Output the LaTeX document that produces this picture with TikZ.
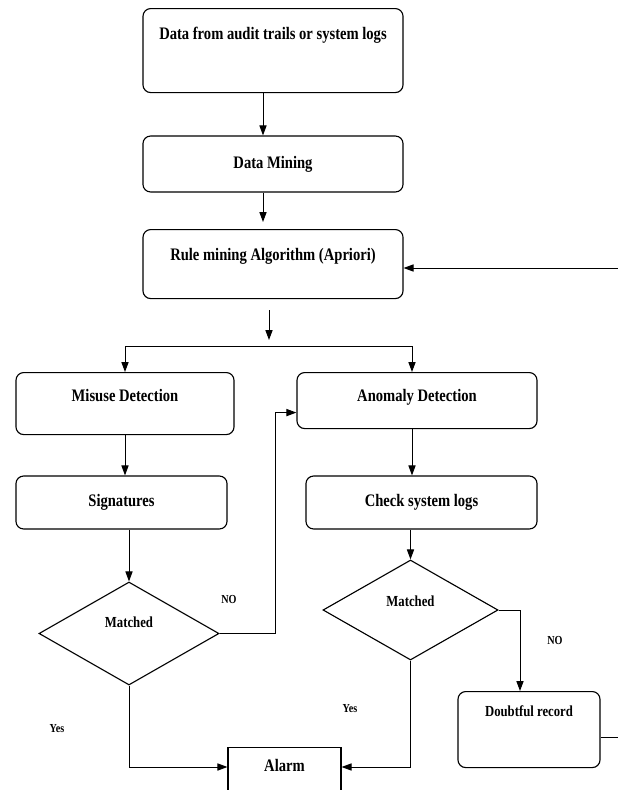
\documentclass[tikz,border=0pt]{standalone}
\usepackage{fontspec}
\newfontfamily\flowfont[FakeStretch=0.83]{Liberation Serif}
\usetikzlibrary{arrows.meta,shapes.geometric}
\tikzset{
  box/.style={draw,rounded corners=5.5pt,line width=0.8pt,inner sep=0pt,align=center},
  dia/.style={draw,diamond,line width=0.8pt,inner sep=0pt,minimum width=4.5cm,
    font={\flowfont\bfseries\fontsize{10.9}{12}\selectfont}},
  arr/.style={line width=0.7pt,-{Triangle[length=0.25cm,width=0.18cm]}},
  tag/.style={font={\flowfont\bfseries\fontsize{8.7}{9}\selectfont}}
}
\begin{document}
\begin{tikzpicture}[x=0.025cm,y=-0.025cm,font={\flowfont\bfseries\fontsize{12.5}{14}\selectfont}]
  \useasboundingbox (0,0) rectangle (618,790);

  \node[box,anchor=north,minimum width=6.5cm,text height=0.77cm,text depth=1.33cm] (src) at (273,8) {Data from audit trails or system logs};
  \node[box,minimum width=6.5cm,minimum height=1.4cm] (mining) at (273,164) {Data Mining};
  \node[box,anchor=north,minimum width=6.5cm,text height=0.785cm,text depth=0.94cm] (rules) at (273,229) {Rule mining Algorithm (Apriori)};
  \node[box,anchor=north,minimum width=5.45cm,text height=0.72cm,text depth=0.83cm] (misuse) at (125,372) {Misuse Detection};
  \node[box,anchor=north,minimum width=6cm,text height=0.72cm,text depth=0.68cm] (anomaly) at (417,372) {Anomaly Detection};
  \node[box,minimum width=5.275cm,minimum height=1.325cm] (sigs) at (121.5,502.5) {Signatures};
  \node[box,minimum width=5.775cm,minimum height=1.325cm] (checklog) at (421.5,502.5) {Check system logs};
  \node[dia,minimum height=2.575cm,text height=0.2cm,text depth=0.5cm] (match1) at (129,633.5) {Matched};
  \node[dia,minimum width=4.375cm,minimum height=2.5cm,text height=0.2cm,text depth=0.375cm] (match2) at (410.5,610) {Matched};
  \node[draw,line width=0.8pt,inner sep=0pt,anchor=north,minimum width=2.825cm,text height=0.6cm,text depth=0.55cm] (alarm) at (284.5,747) {Alarm};
  \node[box,anchor=north,minimum width=3.55cm,text height=0.63cm,text depth=1.27cm,
    font={\flowfont\bfseries\fontsize{10.9}{12}\selectfont}] (doubt) at (529,691) {Doubtful record};

  \foreach \n/\p/\t in {no1/{229,600}/NO,no2/{555,640}/NO,yes1/{57,729}/Yes,yes2/{350,709}/Yes}
    \node[tag] (\n) at (\p) {\t};

  \coordinate (fork) at (269,310);
  \coordinate (split) at (269,346);
  \coordinate (outR) at (618,737);
  \coordinate (inR) at (618,268);
  \coordinate (alarmIn) at (0,767);

  \draw[arr] ([xshift=-0.25cm]src.south) -- ([xshift=-0.25cm]mining.north);
  \draw[arr] ([xshift=-0.25cm]mining.south) -- ([xshift=-0.25cm,yshift=0.175cm]rules.north);
  \draw[arr] (fork) -- ++(0,30);
  \draw[arr] (split) -| (misuse.north);
  \draw[arr] (split) -| ([xshift=-0.125cm]anomaly.north);
  \draw[arr] (misuse.south) -- (misuse.south |- sigs.north);
  \draw[arr] ([xshift=-0.125cm]anomaly.south) -- ([xshift=-0.125cm]anomaly.south |- checklog.north);
  \draw[arr] (match1.north |- sigs.south) -- (match1.north);
  \draw[arr] (match2.north |- checklog.south) -- (match2.north);
  \draw[arr] (match1.east) -- ++(56,0) |- ([yshift=-0.3cm]anomaly.west);
  \draw[arr] (match1.south) |- (alarm.west |- alarmIn);
  \draw[arr] (match2.south) |- (alarm.east |- alarmIn);
  \draw[arr] (match2.east) -| ([xshift=-0.225cm]doubt.north);
  \draw[line width=0.7pt] (doubt.east |- outR) -- (outR);
  \draw[arr] (inR) -- (inR -| rules.east);
\end{tikzpicture}
\end{document}
